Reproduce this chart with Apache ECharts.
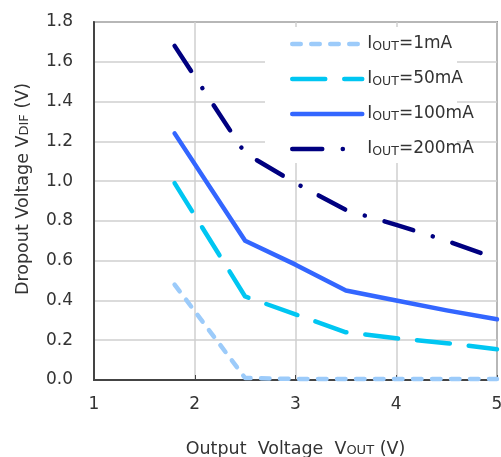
<!DOCTYPE html>
<html><head><meta charset="utf-8">
<script src="https://cdn.jsdelivr.net/npm/echarts@6/dist/echarts.min.js"></script>
<style>html,body{margin:0;padding:0;background:#fff}#c{width:501px;height:457px}</style>
</head><body><div id="c"></div>
<script>
var xTicks = [1, 2, 3, 4, 5];
var yTicks = [0, 0.2, 0.4, 0.6, 0.8, 1.0, 1.2, 1.4, 1.6, 1.8];
var seriesNames = ['1mA', '50mA', '100mA', '200mA'];
var vout = [1.8, 2.5, 3.0, 3.5, 4.0, 4.5, 5.0];
var iout1mA   = [0.48, 0.01, 0.005, 0.005, 0.005, 0.005, 0.005];
var iout50mA  = [0.99, 0.42, 0.33, 0.24, 0.21, 0.185, 0.155];
var iout100mA = [1.24, 0.70, 0.58, 0.45, 0.40, 0.35, 0.305];
var iout200mA = [1.68, 1.14, 0.99, 0.855, 0.78, 0.70, 0.61];

function pairs(ys){ return vout.map(function(x,i){return [x, ys[i]];}); }
var colors = ['#9ccbfa', '#00c6f2', '#3366ff', '#000080'];
var dashes = [[8.5, 10.5], [33, 19], 'solid', [30, 20.5, 0.1, 20.5]];
var vals = [iout1mA, iout50mA, iout100mA, iout200mA];

var chart = echarts.init(document.getElementById('c'), null, {renderer:'canvas'});
var font = '"DejaVu Sans", sans-serif';
var sub = {fontFamily: font, fontSize: 13, color: '#333', verticalAlign: 'bottom', padding:[0,0,1,0]};
chart.setOption({
  animation: false,
  grid: {left: 94, right: 4, top: 22, bottom: 77, containLabel: false, outerBoundsMode: 'none',
    show: true, borderColor: '#444', borderWidth: 1.5, backgroundColor: 'transparent'},
  graphic: [{type: 'rect', z: 1, silent: true, shape: {x: 265, y: 27, width: 192, height: 136}, style: {fill: '#fff'}}],
  legend: {
    orient: 'vertical', left: 265, top: 25, z: 4,
    padding: [9, 0, 10, 25],
    itemWidth: 70, itemHeight: 20, itemGap: 15,
    itemStyle: {opacity: 0, borderWidth: 0},
    lineStyle: {width: 4.5, cap: 'round'},
    data: seriesNames,
    formatter: function(n){ return 'I{s|OUT}=' + n; },
    textStyle: {fontFamily: font, fontSize: 17, color: '#333', lineHeight: 20,
      rich: {s: {fontFamily: font, fontSize: 12.5, color: '#333', verticalAlign: 'bottom', lineHeight: 20, padding:[0,0,1,0]}}}
  },
  xAxis: {
    type: 'value', min: 1, max: 5, interval: 1,
    name: 'Output  Voltage  V{s|OUT} (V)', nameLocation: 'middle', nameGap: 60,
    nameTextStyle: {fontFamily: font, fontSize: 17.5, color: '#333', rich: {s: sub}},
    axisLine: {show: true, lineStyle: {color: '#444', width: 2}},
    axisTick: {show: true, inside: true, length: 5, lineStyle: {color: '#444'}},
    axisLabel: {fontFamily: font, fontSize: 17, color: '#333', margin: 16},
    splitLine: {show: true, lineStyle: {color: '#cfcfcf', width: 1.5}}
  },
  yAxis: {
    type: 'value', min: 0, max: 1.8, interval: 0.2,
    name: 'Dropout Voltage V{s|DIF} (V)', nameLocation: 'middle', nameGap: 62, nameRotate: 90,
    nameTextStyle: {fontFamily: font, fontSize: 17.5, color: '#333', padding: [0, 0, 0, 24], rich: {s: sub}},
    axisLine: {show: true, lineStyle: {color: '#444', width: 2}},
    axisTick: {show: false},
    axisLabel: {fontFamily: font, fontSize: 17, color: '#333', margin: 21,
      formatter: function(v){ return v.toFixed(1); }},
    splitLine: {show: true, lineStyle: {color: '#cfcfcf', width: 1.5}}
  },
  series: seriesNames.map(function(n, i){
    return {
      name: n, type: 'line', symbol: 'none', showSymbol: false, z: 3,
      data: pairs(vals[i]),
      itemStyle: {color: colors[i]},
      lineStyle: {color: colors[i], width: 4.5, type: dashes[i], cap: 'round', join: 'round'}
    };
  })
});
</script></body></html>
